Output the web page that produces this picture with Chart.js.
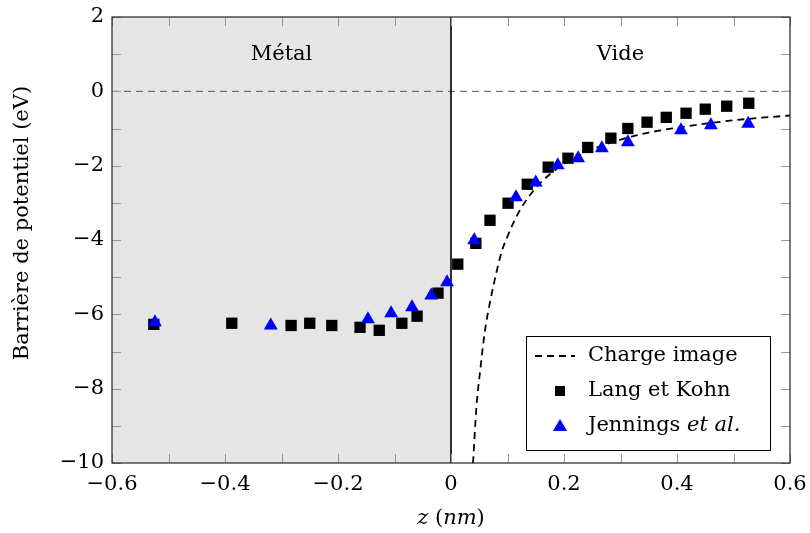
<!DOCTYPE html>
<html>
<head>
<meta charset="utf-8">
<script src="https://cdn.jsdelivr.net/npm/chart.js@4/dist/chart.umd.min.js"></script>
<style>
  html, body { margin: 0; padding: 0; background: #fff; }
  #plot { display: block; }
</style>
</head>
<body>
<canvas id="plot" width="810" height="533"></canvas>
<script>
// Lang et Kohn (squares)
const langZ = [-0.526, -0.388, -0.283, -0.250, -0.211, -0.161, -0.127, -0.087, -0.060, -0.023,
  0.012, 0.044, 0.069, 0.101, 0.135, 0.172, 0.207, 0.242, 0.283, 0.313, 0.347, 0.381, 0.416, 0.450, 0.488, 0.527];
const langV = [-6.27, -6.24, -6.30, -6.24, -6.30, -6.35, -6.43, -6.24, -6.05, -5.43,
  -4.65, -4.09, -3.47, -3.01, -2.50, -2.04, -1.80, -1.51, -1.26, -1.00, -0.83, -0.70, -0.59, -0.48, -0.40, -0.32];

// Jennings et al. (triangles)
const jenZ = [-0.524, -0.319, -0.147, -0.106, -0.069, -0.035, -0.007, 0.041, 0.115, 0.150,
  0.189, 0.225, 0.267, 0.313, 0.407, 0.460, 0.526];
const jenV = [-6.21, -6.30, -6.13, -5.97, -5.81, -5.49, -5.14, -4.01, -2.85, -2.45,
  -1.99, -1.80, -1.53, -1.37, -1.05, -0.91, -0.87];

// charge image curve
const imgZ = [0.039, 0.045, 0.0525, 0.06, 0.07, 0.08, 0.09, 0.1, 0.11, 0.125, 0.15, 0.175,
  0.2, 0.25, 0.3, 0.35, 0.4, 0.45, 0.5, 0.55, 0.6];
const imgV = [-10.0, -8.5, -7.4, -6.45, -5.6, -4.9, -4.3, -3.9, -3.55, -3.12, -2.6, -2.23,
  -1.95, -1.56, -1.3, -1.11, -0.98, -0.87, -0.78, -0.71, -0.65];

const regionLabels = ['Métal', 'Vide'];
const seriesNames = ['Charge image', 'Lang et Kohn', 'Jennings'];

const FONT = '"DejaVu Serif", serif';
const FS = 21;

function pts(xs, ys) {
  return xs.map((x, i) => ({ x: x, y: ys[i] }));
}

function minus(s) {
  return s.replace('-', '\u2212');
}

const decor = {
  id: 'decor',
  beforeDatasetsDraw(chart) {
    const { ctx, chartArea: a, scales: { x, y } } = chart;
    const x0 = x.getPixelForValue(0);
    ctx.save();
    ctx.fillStyle = '#e5e5e5';
    ctx.fillRect(a.left, a.top, x0 - a.left, a.bottom - a.top);

    // dashed zero line
    const y0 = y.getPixelForValue(0);
    ctx.strokeStyle = '#555';
    ctx.lineWidth = 1;
    ctx.setLineDash([7, 5]);
    ctx.beginPath();
    ctx.moveTo(a.left, y0);
    ctx.lineTo(a.right, y0);
    ctx.stroke();
    ctx.setLineDash([]);

    // surface
    ctx.strokeStyle = '#000';
    ctx.lineWidth = 1.6;
    ctx.beginPath();
    ctx.moveTo(x0, a.top);
    ctx.lineTo(x0, a.bottom);
    ctx.stroke();

    ctx.fillStyle = '#000';
    ctx.font = FS + 'px ' + FONT;
    ctx.textAlign = 'center';
    ctx.textBaseline = 'middle';
    const yl = y.getPixelForValue(1);
    ctx.fillText(regionLabels[0], (a.left + x0) / 2, yl);
    ctx.fillText(regionLabels[1], (x0 + a.right) / 2, yl);
    ctx.restore();
  },
  afterDatasetsDraw(chart) {
    const { ctx, chartArea: a, scales: { x, y } } = chart;
    ctx.save();
    // inward ticks
    ctx.strokeStyle = '#999';
    ctx.lineWidth = 1;
    const tl = 9;
    ctx.beginPath();
    x.ticks.forEach(t => {
      const px = Math.round(x.getPixelForValue(t.value)) + 0.5;
      ctx.moveTo(px, a.bottom); ctx.lineTo(px, a.bottom - tl);
      ctx.moveTo(px, a.top); ctx.lineTo(px, a.top + tl);
    });
    y.ticks.forEach(t => {
      const py = Math.round(y.getPixelForValue(t.value)) + 0.5;
      ctx.moveTo(a.left, py); ctx.lineTo(a.left + tl, py);
      ctx.moveTo(a.right, py); ctx.lineTo(a.right - tl, py);
    });
    ctx.stroke();

    // frame
    ctx.strokeStyle = '#222';
    ctx.lineWidth = 1.2;
    ctx.strokeRect(a.left, a.top, a.right - a.left, a.bottom - a.top);

    // legend
    const lw = 244, lh = 114;
    const lx = a.right - 264, ly = a.bottom - 127;
    ctx.fillStyle = '#fff';
    ctx.fillRect(lx, ly, lw, lh);
    ctx.strokeStyle = '#000';
    ctx.lineWidth = 1;
    ctx.strokeRect(lx + 0.5, ly + 0.5, lw, lh);

    const sx = lx + 34;
    const rows = [ly + 20, ly + 55, ly + 90];
    ctx.strokeStyle = '#000';
    ctx.lineWidth = 1.8;
    ctx.setLineDash([7, 5]);
    ctx.beginPath();
    ctx.moveTo(sx - 25, rows[0]);
    ctx.lineTo(sx + 15, rows[0]);
    ctx.stroke();
    ctx.setLineDash([]);

    ctx.fillStyle = '#000';
    ctx.fillRect(sx - 5, rows[1] - 5, 10, 10);

    ctx.fillStyle = '#0000ff';
    ctx.beginPath();
    ctx.moveTo(sx, rows[2] - 7);
    ctx.lineTo(sx + 7, rows[2] + 5);
    ctx.lineTo(sx - 7, rows[2] + 5);
    ctx.closePath();
    ctx.fill();

    ctx.fillStyle = '#000';
    ctx.textAlign = 'left';
    ctx.textBaseline = 'middle';
    ctx.font = FS + 'px ' + FONT;
    const tx = lx + 62;
    ctx.fillText(seriesNames[0], tx, rows[0]);
    ctx.fillText(seriesNames[1], tx, rows[1]);
    const jw = ctx.measureText(seriesNames[2] + ' ').width;
    ctx.fillText(seriesNames[2] + ' ', tx, rows[2]);
    ctx.font = 'italic ' + FS + 'px ' + FONT;
    ctx.fillText('et al.', tx + jw, rows[2]);

    // x title: z (nm)
    const parts = [['z', true], [' (', false], ['nm', true], [')', false]];
    let total = 0;
    parts.forEach(p => {
      ctx.font = (p[1] ? 'italic ' : '') + FS + 'px ' + FONT;
      total += ctx.measureText(p[0]).width;
    });
    let cx = (a.left + a.right) / 2 - total / 2;
    const ty = 519;
    parts.forEach(p => {
      ctx.font = (p[1] ? 'italic ' : '') + FS + 'px ' + FONT;
      ctx.fillText(p[0], cx, ty);
      cx += ctx.measureText(p[0]).width;
    });

    // y title
    ctx.font = FS + 'px ' + FONT;
    ctx.translate(23, 223);
    ctx.rotate(-Math.PI / 2);
    ctx.textAlign = 'center';
    ctx.fillText('Barrière de potentiel (eV)', 0, 0);
    ctx.restore();
  }
};

new Chart(document.getElementById('plot'), {
  type: 'scatter',
  data: {
    datasets: [
      {
        label: seriesNames[0],
        data: pts(imgZ, imgV),
        showLine: true,
        borderColor: '#000',
        borderWidth: 1.8,
        borderDash: [7, 5],
        cubicInterpolationMode: 'monotone',
        pointRadius: 0,
        order: 2,
      },
      {
        label: seriesNames[1],
        data: pts(langZ, langV),
        pointStyle: 'rect',
        pointRadius: 8,
        backgroundColor: '#000',
        borderColor: '#000',
        borderWidth: 0,
        order: 1,
      },
      {
        label: seriesNames[2],
        data: pts(jenZ, jenV),
        pointStyle: 'triangle',
        pointRadius: 8,
        backgroundColor: '#0000ff',
        borderColor: '#0000ff',
        borderWidth: 0,
        order: 0,
      },
    ],
  },
  options: {
    responsive: false,
    animation: false,
    layout: { padding: { top: 17, right: 20, left: 0, bottom: 0 } },
    plugins: {
      legend: { display: false },
      tooltip: { enabled: false },
    },
    scales: {
      x: {
        type: 'linear',
        min: -0.6,
        max: 0.6,
        grid: { display: false, drawTicks: false },
        border: { display: false },
        ticks: {
          stepSize: 0.1,
          autoSkip: false,
          maxRotation: 0,
          padding: 9,
          color: '#000',
          font: { family: FONT, size: FS },
          callback: (v) => {
            const k = Math.round(v * 10);
            if (k % 2) return '';
            return k === 0 ? '0' : minus(v.toFixed(1));
          },
        },
        afterFit: (s) => {
          s.height = 70;
          s.paddingLeft = 0;
          s.paddingRight = 0;
        },
      },
      y: {
        type: 'linear',
        min: -10,
        max: 2,
        grid: { display: false, drawTicks: false },
        border: { display: false },
        ticks: {
          stepSize: 1,
          autoSkip: false,
          padding: 8,
          color: '#000',
          font: { family: FONT, size: FS },
          callback: (v) => (Math.round(v) % 2 ? '' : minus(String(v))),
        },
        afterFit: (s) => {
          s.width = 112;
          s.paddingTop = 0;
          s.paddingBottom = 0;
        },
      },
    },
  },
  plugins: [decor],
});
</script>
</body>
</html>
